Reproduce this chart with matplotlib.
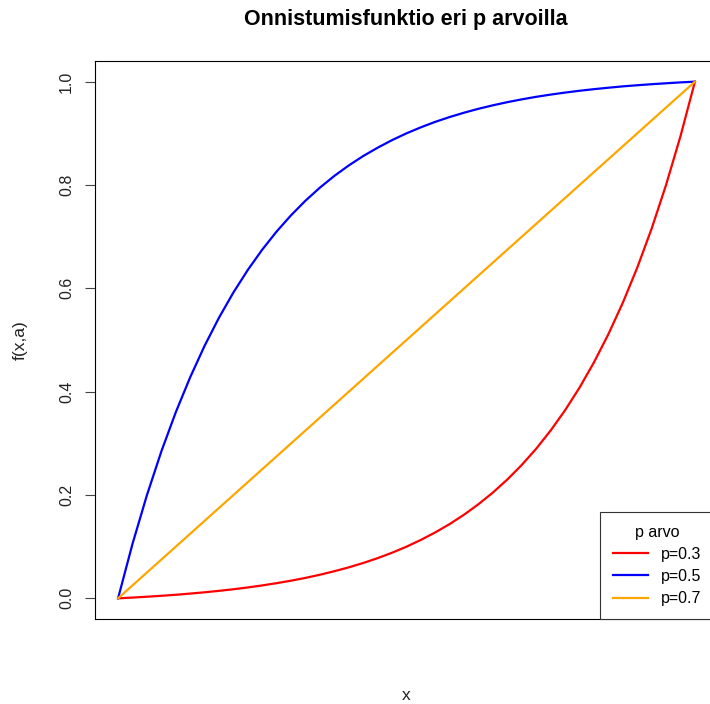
import matplotlib.pyplot as plt
from matplotlib.lines import Line2D

plt.rcParams['font.family'] = ['Liberation Sans', 'DejaVu Sans']

# values
x = [0.000, 0.025, 0.050, 0.075, 0.100, 0.125, 0.150, 0.175, 0.200, 0.225,
     0.250, 0.275, 0.300, 0.325, 0.350, 0.375, 0.400, 0.425, 0.450, 0.475,
     0.500, 0.525, 0.550, 0.575, 0.600, 0.625, 0.650, 0.675, 0.700, 0.725,
     0.750, 0.775, 0.800, 0.825, 0.850, 0.875, 0.900, 0.925, 0.950, 0.975, 1.000]
red_y = [0.0000, 0.0015, 0.0031, 0.0049, 0.0069, 0.0092, 0.0117, 0.0145, 0.0176, 0.0211,
         0.0250, 0.0294, 0.0342, 0.0396, 0.0457, 0.0525, 0.0600, 0.0684, 0.0778, 0.0883,
         0.1000, 0.1131, 0.1277, 0.1439, 0.1621, 0.1824, 0.2050, 0.2302, 0.2584, 0.2898,
         0.3250, 0.3642, 0.4079, 0.4568, 0.5113, 0.5721, 0.6400, 0.7157, 0.8003, 0.8946, 1.0000]
blue_y = [0.0000, 0.1054, 0.1997, 0.2843, 0.3601, 0.4279, 0.4888, 0.5433, 0.5921, 0.6358,
          0.6750, 0.7102, 0.7416, 0.7698, 0.7950, 0.8177, 0.8379, 0.8561, 0.8722, 0.8869,
          0.9000, 0.9117, 0.9223, 0.9316, 0.9400, 0.9476, 0.9543, 0.9604, 0.9658, 0.9707,
          0.9750, 0.9789, 0.9824, 0.9855, 0.9883, 0.9909, 0.9931, 0.9951, 0.9969, 0.9986, 1.0000]
orange_y = [0.000, 0.025, 0.050, 0.075, 0.100, 0.125, 0.150, 0.175, 0.200, 0.225,
            0.250, 0.275, 0.300, 0.325, 0.350, 0.375, 0.400, 0.425, 0.450, 0.475,
            0.500, 0.525, 0.550, 0.575, 0.600, 0.625, 0.650, 0.675, 0.700, 0.725,
            0.750, 0.775, 0.800, 0.825, 0.850, 0.875, 0.900, 0.925, 0.950, 0.975, 1.000]

labels = ['p=0.3', 'p=0.5', 'p=0.7']
colors = ['#FF0000', '#0000FF', '#FFA500']
yticks = [0.0, 0.2, 0.4, 0.6, 0.8, 1.0]

fig = plt.figure(figsize=(7.1, 7.04), dpi=100)
# plot region runs past the right edge of the picture, as in the reference
ax = fig.add_axes([95 / 710, 85 / 704, 623 / 710, 558 / 704])

ax.plot(x, red_y, color=colors[0], linewidth=1.6)
ax.plot(x, blue_y, color=colors[1], linewidth=1.6)
ax.plot(x, orange_y, color=colors[2], linewidth=1.6)

ax.set_xlim(-0.04, 1.04)
ax.set_ylim(-0.04, 1.04)
ax.set_xticks([])
ax.set_yticks(yticks)
ax.set_yticklabels(['%.1f' % v for v in yticks], rotation=90, va='center')
ax.tick_params(axis='y', length=7.2, width=0.8, color='#444444', pad=8, labelsize=11.5,
               labelcolor='#222222')
for s in ax.spines.values():
    s.set_linewidth(0.8)
    s.set_color('black')

fig.text(406 / 710, 1 - 20 / 704, 'Onnistumisfunktio eri p arvoilla',
         ha='center', va='center', fontsize=15.5, fontweight='bold')
fig.text(20 / 710, 1 - 340 / 704, 'f(x,a)', rotation=90,
         ha='center', va='center', fontsize=12.5, color='#222222')
fig.text(406 / 710, 1 - 695 / 704, 'x', ha='center', va='center', fontsize=12.5,
         color='#222222')

handles = [Line2D([], [], color=c, linewidth=1.6) for c in colors]
leg = fig.legend(handles, labels, title='p arvo', loc='lower left',
                 bbox_to_anchor=(600 / 710, 85 / 704), borderaxespad=0,
                 fancybox=False, framealpha=1, edgecolor='#333333',
                 fontsize=11.5, title_fontsize=11.5, handlelength=2.2,
                 handletextpad=0.8, labelspacing=0.45, borderpad=0.8)
leg.get_frame().set_linewidth(0.8)

fig.savefig('out.png', dpi=100)
